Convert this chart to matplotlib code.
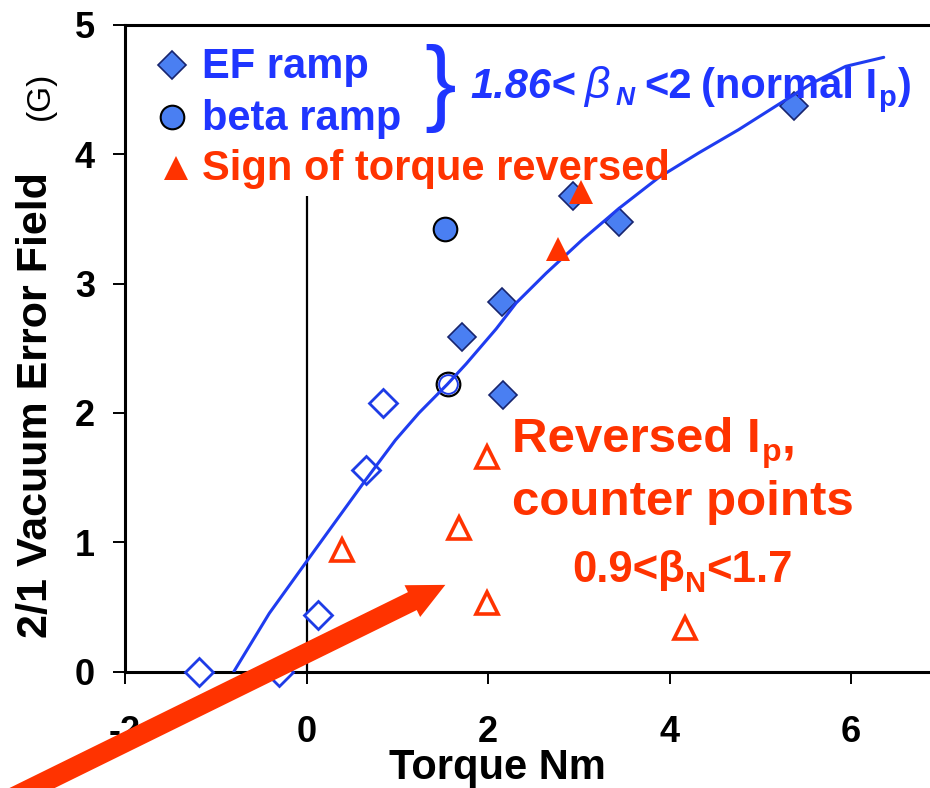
import matplotlib
matplotlib.use("Agg")
import matplotlib.pyplot as plt
from matplotlib.patches import FancyArrowPatch, ArrowStyle

plt.rcParams['font.family'] = ['Liberation Sans', 'DejaVu Sans']
plt.rcParams['font.weight'] = 'bold'

BLUE_TXT = '#1f35ff'
BLUE_FILL = '#4a7ff2'
BLUE_EDGE = '#17246e'
BLUE_OPEN = '#1e3ce6'
BLUE_LINE = '#1f3cf0'
RED = '#ff3300'

# EF ramp shots (normal Ip), filled diamonds
ef_x = [5.37, 2.94, 3.44, 2.15, 1.71, 2.16]
ef_y = [4.37, 3.68, 3.48, 2.86, 2.59, 2.14]
# EF ramp shots, open diamonds
ef_open_x = [0.84, 0.65, 0.13, -1.19, -0.30]
ef_open_y = [2.08, 1.56, 0.44, 0.0, 0.0]
# beta ramp shots
beta_x = [1.53]
beta_y = [3.42]
beta_open_x = [1.56]
beta_open_y = [2.22]
# sign of torque reversed (filled triangles)
rev_x = [3.02, 2.77]
rev_y = [3.71, 3.27]
# reversed Ip, counter points (open triangles)
counter_x = [0.39, 1.68, 1.99, 1.99, 4.17]
counter_y = [0.94, 1.11, 1.66, 0.53, 0.34]
# hand-drawn trend curve
fit_x = [-0.80, -0.41, 0.00, 0.33, 0.65, 0.98, 1.24, 1.55, 1.76, 2.09, 2.31,
         2.64, 3.04, 3.44, 3.88, 4.32, 4.76, 5.21, 5.57, 5.94, 6.36]
fit_y = [0.00, 0.45, 0.85, 1.17, 1.48, 1.79, 2.00, 2.22, 2.38, 2.65, 2.85,
         3.08, 3.34, 3.58, 3.82, 4.01, 4.19, 4.39, 4.55, 4.68, 4.75]
# zero-torque marker line
zero_x = 0.0
zero_top = 3.68
# arrow (tail, head) in data units
arrow_tail = (-3.60, -1.10)
arrow_head = (1.53, 0.67)

x_ticks = [-2, 0, 2, 4, 6]
y_ticks = [0, 1, 2, 3, 4, 5]

W, H = 930, 788
fig = plt.figure(figsize=(W / 100, H / 100), dpi=100)
ax = fig.add_axes([125 / W, 1 - 671.5 / H, (W - 125) / W, (671.5 - 25) / H])
ax.set_xlim(-2, 6.87)
ax.set_ylim(0, 5)
for s in ['left', 'bottom', 'top']:
    ax.spines[s].set_linewidth(2.2)
ax.spines['right'].set_visible(False)
ax.set_xticks(x_ticks)
ax.set_yticks(y_ticks)
ax.set_xticklabels([str(v) for v in x_ticks])
ax.set_yticklabels([str(v) for v in y_ticks])
ax.tick_params(direction='out', length=8.6, width=1.4, labelsize=26)
ax.tick_params(axis='x', pad=23)
ax.tick_params(axis='y', pad=13)
for lab in ax.get_xticklabels() + ax.get_yticklabels():
    lab.set_fontweight('bold')

ax.vlines(zero_x, 0, zero_top, color='black', lw=1.6, zorder=2)

ax.plot(ef_x, ef_y, 'D', ms=14.5, mfc=BLUE_FILL, mec=BLUE_EDGE, mew=1.2,
        zorder=3, clip_on=False)
ax.plot(ef_open_x, ef_open_y, 'D', ms=14.5, mfc='white', mec=BLUE_OPEN,
        mew=2.0, zorder=3, clip_on=False)
ax.plot(beta_x, beta_y, 'o', ms=17, mfc=BLUE_FILL, mec='black', mew=1.5,
        zorder=3)
ax.plot(beta_open_x, beta_open_y, 'o', ms=17, mfc='white', mec='black',
        mew=1.6, zorder=3)
ax.plot(beta_open_x, beta_open_y, 'o', ms=13.5, mfc='none', mec=BLUE_OPEN,
        mew=1.4, zorder=3)
ax.plot(counter_x, counter_y, '^', ms=16, mfc='white', mec=RED, mew=2.6,
        zorder=3)
ax.plot(fit_x, fit_y, '-', color=BLUE_LINE, lw=2.2, zorder=4,
        solid_capstyle='round', solid_joinstyle='round')
ax.plot(rev_x, rev_y, '^', ms=17, mfc=RED, mec=RED, mew=0, zorder=5)

# legend entries drawn by hand
ax.plot([0.0584], [0.938], 'D', ms=14.5, mfc=BLUE_FILL, mec=BLUE_EDGE,
        mew=1.2, transform=ax.transAxes)
ax.plot([0.0584], [0.858], 'o', ms=17, mfc=BLUE_FILL, mec='black', mew=1.5,
        transform=ax.transAxes)
ax.plot([0.0634], [0.779], '^', ms=17, mfc=RED, mec=RED, mew=0,
        transform=ax.transAxes)

arrow = FancyArrowPatch(arrow_tail, arrow_head, transform=ax.transData,
                        arrowstyle=ArrowStyle.Simple(head_length=26.5,
                                                     head_width=25.5,
                                                     tail_width=14.4),
                        mutation_scale=1, shrinkA=0, shrinkB=0,
                        color=RED, lw=0, zorder=10, clip_on=False)
ax.add_patch(arrow)


def ftext(px, py, s, **kw):
    return fig.text(px / W, 1 - py / H, s, **kw)


renderer = fig.canvas.get_renderer()


def run(px, py, pieces, color):
    for s, kw, dy, gap in pieces:
        t = ftext(px, py + dy, s, ha='left', va='baseline', color=color,
                  zorder=6, **kw)
        px += t.get_window_extent(renderer).width + gap


# axis labels
ftext(36, 405, '2/1 Vacuum Error Field', rotation=90, ha='center',
      va='center', fontsize=31, fontweight='bold')
ftext(40, 96, '(G)', rotation=90, ha='center', va='center', fontsize=24,
      fontweight='normal')
ftext(497, 779, 'Torque Nm', ha='center', va='baseline', fontsize=30,
      fontweight='bold')

# legend labels
ftext(202, 78, 'EF ramp', ha='left', va='baseline', fontsize=30,
      color=BLUE_TXT)
ftext(202, 130, 'beta ramp', ha='left', va='baseline', fontsize=30,
      color=BLUE_TXT)
ftext(202, 180, 'Sign of torque reversed', ha='left', va='baseline',
      fontsize=30, color=RED, zorder=6)
ftext(424, 113, '}', ha='left', va='baseline', fontsize=68,
      fontweight='normal', color=BLUE_TXT)

bi = dict(fontsize=30, fontweight='bold', fontstyle='italic')
bd = dict(fontsize=30, fontweight='bold')
run(470, 98, [
    ('1.86<', bi, 0, 9),
    ('β', dict(fontsize=32, fontweight='normal', fontstyle='italic'), 0, 6),
    ('N', dict(fontsize=19, fontweight='bold', fontstyle='italic'), 7, 10),
    ('<2', bd, 0, 9),
    ('(normal I', bd, 0, 1),
    ('p', dict(fontsize=21, fontweight='bold'), 8, 2),
    (')', bd, 0, 0),
], BLUE_TXT)

rd = dict(fontsize=35.5, fontweight='bold')
run(512, 452, [
    ('Reversed I', rd, 0, 1),
    ('p', dict(fontsize=23, fontweight='bold'), 9, 0),
    (',', rd, 0, 0),
], RED)
ftext(512, 515, 'counter points', ha='left', va='baseline', color=RED,
      **rd)
gd = dict(fontsize=31.5, fontweight='bold')
run(572, 582, [
    ('0.9<', gd, 0, 0),
    ('β', gd, 0, 0),
    ('N', dict(fontsize=21, fontweight='bold'), 10, 0),
    ('<1.7', gd, 0, 0),
], RED)

fig.savefig('out.png', dpi=100)
